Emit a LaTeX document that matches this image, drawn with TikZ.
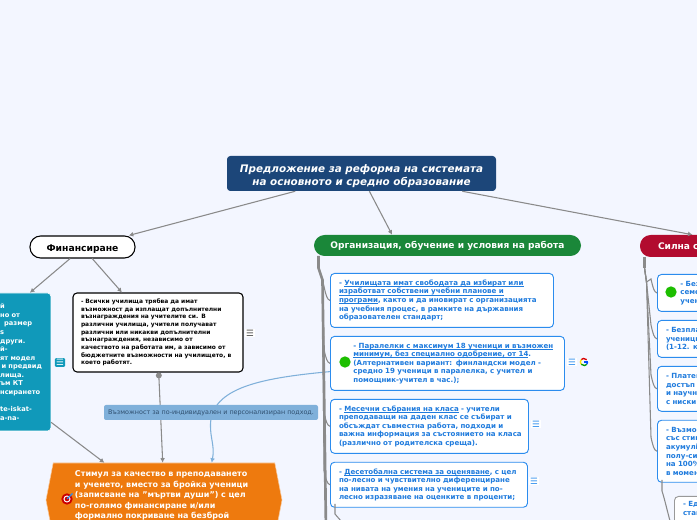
\documentclass[tikz,border=0pt]{standalone}
\usepackage{fontspec}
\setmainfont{DejaVu Sans}
\usepackage{xcolor}
\usepackage{tikz}
\usetikzlibrary{arrows.meta,positioning,shapes.symbols,calc}
\definecolor{pagebg}{HTML}{F3F6FF}
\definecolor{titleblue}{HTML}{1C4679}
\definecolor{orggreen}{HTML}{1A8739}
\definecolor{strongred}{HTML}{B20B2F}
\definecolor{tealbox}{HTML}{1099BA}
\definecolor{stimulorange}{HTML}{EE7A0E}
\definecolor{cardblue}{HTML}{2B8CEE}
\definecolor{cardtext}{HTML}{1F7BDD}
\definecolor{linkgray}{HTML}{8A8A8A}
\definecolor{softblue}{HTML}{7FB0DA}
\definecolor{hinttext}{HTML}{2F4F6F}
\newsavebox{\linkbox}
\newcommand{\linkline}[1]{\leavevmode\sbox{\linkbox}{#1}\rlap{\rule[-.75pt]{\wd\linkbox}{.3pt}}\usebox{\linkbox}}

\begin{document}
\begin{tikzpicture}[
  x=.75pt, y=-.75pt,
  node distance=6pt,
  rootbox/.style={rectangle, rounded corners=8pt, font=\fontsize{6.8pt}{8pt}\selectfont\bfseries, text=white, inner sep=0pt},
  leftgap/.style={execute at begin node={\leftskip=#1\relax}},
  card/.style={draw=cardblue, fill=white, rectangle, rounded corners=3pt, line width=.7pt, font=\fontsize{5.3pt}{6.4pt}\selectfont\bfseries, text=cardtext, align=left, anchor=north west, inner xsep=4pt, inner ysep=0pt, leftgap=2.4pt},
  menu/.style={font=\fontsize{6.5pt}{7pt}\selectfont, inner sep=1pt, fill=white, text=cardblue},
  gooddot/.style={circle, fill=green!70!black!85!lime, minimum size=8.5pt, inner sep=0pt},
  link/.style={-{Latex[length=3.4pt,width=3.6pt]}, line width=.8pt, draw=linkgray},
  softlink/.style={-{Latex[length=3.4pt,width=3.6pt]}, line width=.8pt, draw=softblue},
  limb/.style={line width=.8pt, draw=linkgray}
]
\useasboundingbox (0,0) rectangle (697,520);
\clip (0,0) rectangle (697,520);
\fill[pagebg] (0,0) rectangle (697,520);

% main topics
\node[rootbox, fill=titleblue, rounded corners=2.5pt, minimum width=201.75pt, minimum height=26.25pt, align=center, font=\fontsize{7.8pt}{9.6pt}\selectfont\bfseries\itshape] (title) at (361.5,173.5) {\rule{0pt}{9.5pt}Предложение за реформа на системата\\на основното и средно образование};
\node[rootbox, draw=black, fill=white, text=black, line width=.8pt, minimum width=78.75pt, minimum height=16.5pt, font=\fontsize{6.9pt}{8pt}\selectfont\bfseries] (funding) at (82.5,247) {\rule{0pt}{7.5pt}Финансиране};
\node[rootbox, fill=orggreen, minimum width=200.25pt, minimum height=15.75pt] (orgroot) at (447.5,245.5) {Организация, обучение и условия на работа};
\node[rootbox, fill=strongred, text width=33pt, inner xsep=13.5pt, minimum height=16.5pt, align=left] (strongroot) at (680,246) {Силна с};

% funding branch
\node[rectangle, rounded corners=2.5pt, fill=tealbox, draw=white, line width=.4pt, text=white, font=\fontsize{5pt}{6.45pt}\selectfont\bfseries, align=left, text width=71pt, inner xsep=2.25pt, inner ysep=0pt, minimum height=103.5pt, leftgap=35.25pt] (tealnote) at (0.5,362) {й\\но от\\\hspace*{3pt}размер\\s\\други.\\й-\\ят модел\\\hspace*{1pt}и предвид\\лища.\\ъм КТ\\нсирането\\\mbox{}\\te-iskat-\\a-na-};
\node[rectangle, rounded corners=3pt, draw=black, fill=white, line width=.8pt, text=black, font=\fontsize{4.45pt}{5.75pt}\selectfont\bfseries, align=left, text width=115.5pt, inner xsep=6pt, inner ysep=0pt, minimum height=59.25pt] (bonusnote) at (158,332.5) {- Всички училища трябва да имат\\възможност да изплащат допълнителни\\възнаграждения на учителите си. В\\различни училища, учители получават\\различни или никакви допълнителни\\възнаграждения, независимо от\\качеството на работата им, а зависимо от\\бюджетните възможности на училището, в\\което работят.};
\node[signal, signal to=west and east, signal pointer angle=158, fill=stimulorange, draw=white!60!stimulorange, line width=.4pt, text=white, font=\fontsize{6pt}{7.9pt}\selectfont\bfseries, align=left, text width=144pt, minimum width=177pt, minimum height=55.5pt, inner xsep=0pt, inner ysep=0pt, leftgap=5.25pt] (stimul) at (164,500) {Стимул за качество в преподаването\\и ученето, вместо за бройка ученици\\(записване на "мъртви души") с цел\\по-голямо финансиране и/или\\формално покриване на безброй\\\mbox{}};

% organisation branch
\node[card, minimum height=40.5pt, text width=159.25pt] (org1) at (330,273) {- \linkline{Училищата имат свободата да избират или}\\\linkline{изработват собствени учебни планове и}\\\linkline{програми}, както и да иновират с организацията\\на учебния процес, в рамките на държавния\\образователен стандарт;};
\node[card, minimum height=40.5pt, text width=167.5pt, leftgap=13.2pt, below=of org1.south west, anchor=north west] (org2) {- \linkline{Паралелки с максимум 18 ученици и възможен}\\\linkline{минимум, без специално одобрение, от 14}.\\(Алтернативен вариант: финландски модел -\\средно 19 ученици в паралелка, с учител и\\помощник-учител в час.);};
\node[card, minimum height=40.5pt, text width=140.5pt, below=of org2.south west, anchor=north west] (org3) {- \linkline{Месечни събрания на класа} - учители\\преподаващи на даден клас се събират и\\обсъждат съвместна работа, подходи и\\важна информация за състоянието на класа\\(различно от родителска среща).};
\node[card, minimum height=33.75pt, text width=139.75pt, below=of org3.south west, anchor=north west] (org4) {- \linkline{Десетобална система за оценяване}, с цел\\по-лесно и чувствително диференциране\\на нивата на умения на учениците и по-\\лесно изразяване на оценките в проценти;};
\node[gooddot] (dot1) at (345,362) {};
\node[menu] (menu2) at (572,362) {☰};
\node[menu] (menu3) at (536,424) {☰};
\node[menu] (menu4) at (534,481) {☰};
\node[menu, text=black!70] (menubonus) at (250,333) {☰};
\node[menu, fill=tealbox, text=white, rounded corners=1pt] (menuteal) at (60,362.5) {☰};

% google mark
\coordinate (googleg) at (584,362);
\foreach \c/\a/\b in {red!85!black/40/140, yellow!85!orange/140/220, green!60!black/220/320, blue!70!cyan/320/360}
  \draw[\c, line width=1pt] ($(googleg)+(\a:2.7pt)$) arc[start angle=\a, end angle=\b, radius=2.7pt];
\draw[blue!70!cyan, line width=1pt] (googleg) -- +(3.6,0);

% strong branch, runs off the page
\node[card, minimum height=27.75pt, text width=90pt, leftgap=13.2pt] (strong1) at (657,274) {- Без\\семе\\учен};
\node[gooddot] (dot2) at (671,292) {};
\node[card, minimum height=27.75pt, text width=90pt, below=of strong1.south west, anchor=north west] (strong2) {- Безпла\\ученици\\(1-12. к};
\node[card, minimum height=33.75pt, text width=90pt, below=of strong2.south west, anchor=north west] (strong3) {- Платен\\достъп д\\и научн\\с ниски};
\node[card, minimum height=46.5pt, text width=90pt, below=of strong3.south west, anchor=north west] (strong4) {- Възмо\\със стиг\\акумулі\\полу-си\\на 100\%\\в момен};
\node[card, draw=gray!80, text=cardtext, text width=90pt, inner ysep=4pt] (stronggrey) at (674,496) {- Ед\\стан\\пол};

% target icon
\node[circle, fill=red!80!black, minimum size=8.5pt, inner sep=0pt] (target) at (67,499) {};
\node[circle, draw=white, line width=.7pt, minimum size=4.5pt, inner sep=0pt] (targetring) at (67,499) {};
\coordinate (targettip) at (72.5,493.5);
\draw[cardblue, line width=.8pt] (target.center) -- (targettip);

% bends in the bundles
\coordinate (orgstart) at (318.5,256);
\coordinate (orgknee) at (318.5,268);
\coordinate (orgbend) at (322.5,280);
\coordinate (orgmore) at (326,530);
\coordinate (org4out) at (335,504);
\coordinate (org4bend) at (335,514);
\coordinate (orgnext) at (341,521);
\coordinate (strongstart) at (644.5,257);
\coordinate (strongknee) at (644.5,268);
\coordinate (strongbend) at (646.5,282);
\coordinate (strong4out) at (662,480);
\coordinate (strong4bend) at (662,491);
\coordinate (strongchild) at (674,535);
\coordinate (softmid) at (210.5,424);

\draw[link] (title.-165.6) -- (funding.14);
\draw[link] (title.-66) -- (orgroot.169);
\draw[link] (title.-10) -- (strongroot.42);
\draw[link] (funding.223) -- (tealnote.67.5);
\draw[link] (funding.-50) -- (bonusnote.132);
\draw[link] (tealnote.-50) -- (stimul.148);
\draw[link, {Circle[length=4.4pt]}-{Latex[length=3.4pt,width=3.6pt]}] (bonusnote.-89) -- (stimul.92);
\draw[softlink] (org2.184) .. controls (260,378) and (212,388) .. (softmid) .. controls (210,438) and (215,446) .. (stimul.38);

\draw[limb, line width=2pt] (orgstart) -- (orgknee) -- (orgbend) -- (orgmore);
\foreach \n in {org1,org2,org3,org4}
  \draw[limb] (orgbend) -- ($(\n.west)+(-6,-14)$) .. controls ($(\n.west)+(-4,-5)$) and ($(\n.west)+(-3,-1)$) .. (\n.west);
\draw[limb] (org4out) -- (org4bend) -- (orgnext);

\draw[limb, line width=1.6pt] (strongstart) -- (strongknee);
\foreach \n in {strong1,strong2,strong3,strong4}
  \draw[limb] (strongknee) -- (strongbend) -- ($(\n.west)+(-6,-14)$) .. controls ($(\n.west)+(-4,-5)$) and ($(\n.west)+(-3,-1)$) .. (\n.west);
\draw[limb] (strong4out) -- (strong4bend) .. controls (665,500) and (668,515) .. (strongchild);

\node[rectangle, rounded corners=1.5pt, fill=softblue, text=hinttext, font=\fontsize{4.8pt}{6pt}\selectfont, inner sep=0pt, minimum width=160.5pt, minimum height=11.25pt] (hintlabel) at (211,412.5) {Възможност за по-индивидуален и персонализиран подход.};
\end{tikzpicture}
\end{document}
